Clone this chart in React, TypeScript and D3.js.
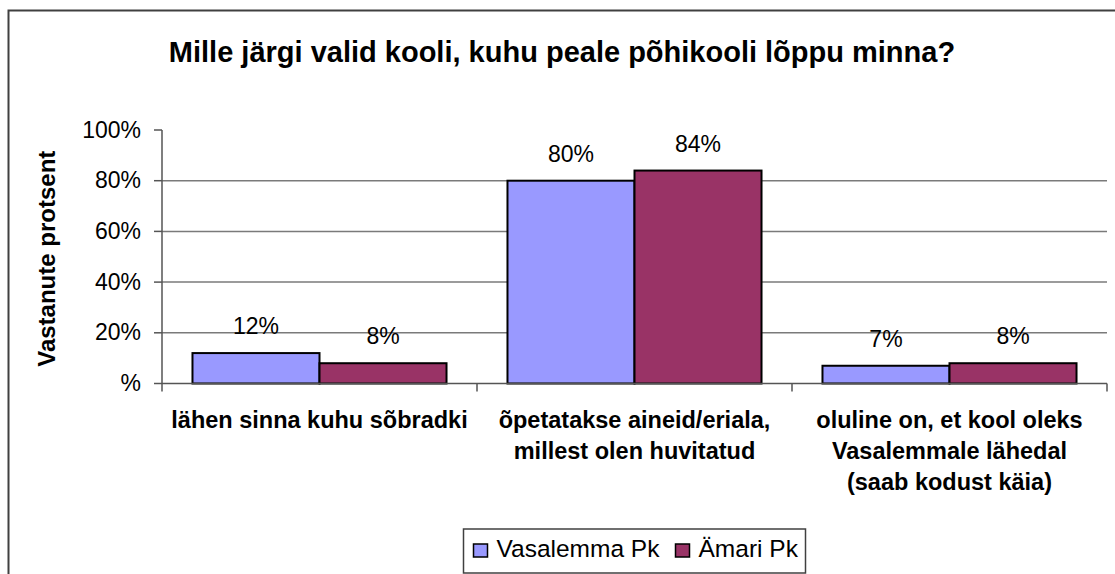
import React from "react";
import * as d3 from "d3";

const categories: string[][] = [
  ["lähen sinna kuhu sõbradki"],
  ["õpetatakse aineid/eriala,", "millest olen huvitatud"],
  ["oluline on, et kool oleks", "Vasalemmale lähedal", "(saab kodust käia)"],
];
const seriesNames = ["Vasalemma Pk", "Ämari Pk"];
const vasalemma = [0.12, 0.8, 0.07];
const amari = [0.08, 0.84, 0.08];
const labelsVasalemma = ["12%", "80%", "7%"];
const labelsAmari = ["8%", "84%", "8%"];
const yTicks = [0, 0.2, 0.4, 0.6, 0.8, 1.0];
const yTickLabels = ["%", "20%", "40%", "60%", "80%", "100%"];
const colors = ["#9999FF", "#993366"];
const title = "Mille järgi valid kooli, kuhu peale põhikooli lõppu minna?";
const yTitle = "Vastanute protsent";

const W = 1115;
const H = 574;
const FONT = "'Liberation Sans', Arial, Helvetica, sans-serif";

export default function App() {
  const left = 162;
  const right = 1107;
  const top = 130;
  const bottom = 383.5;

  const x0 = d3
    .scaleBand<number>()
    .domain(categories.map((_, i) => i))
    .range([left, right])
    .paddingInner(0)
    .paddingOuter(0);
  const bw = x0.bandwidth();
  const gap = 0.48;
  const barW = bw / (2 + gap);
  const y = d3.scaleLinear().domain([0, 1]).range([bottom, top]);

  const series = [vasalemma, amari];
  const seriesLabels = [labelsVasalemma, labelsAmari];

  const catTicks = [...categories.map((_, i) => x0(i)!), right];

  const legendItemW = [202, 130];
  const legendW = 10 + legendItemW[0] + legendItemW[1];
  const legendX = (left + right) / 2 - legendW / 2;

  return (
    <svg
      width={W}
      height={H}
      style={{ position: "absolute", left: 0, top: 0, background: "#fff" }}
      fontFamily={FONT}
    >
      <rect x={0} y={0} width={W} height={H} fill="#fff" />
      {/* outer chart border (extends beyond view) */}
      <rect x={8.5} y={10.5} width={1108} height={700} fill="none" stroke="#404040" strokeWidth={2} />

      <text x={562} y={62} textAnchor="middle" fontSize={29} fontWeight="bold" fill="#000">
        {title}
      </text>

      {/* gridlines */}
      {yTicks
        .filter((t) => t > 0 && t < 1)
        .map((t) => (
          <line key={"g" + t} x1={left} x2={right} y1={y(t)} y2={y(t)} stroke="#7a7a7a" strokeWidth={1.5} />
        ))}

      {/* bars */}
      {categories.map((_, i) =>
        series.map((s, j) => {
          const bx = x0(i)! + (gap / 2) * barW + j * barW;
          return (
            <rect
              key={`b${i}-${j}`}
              x={bx}
              y={y(s[i])}
              width={barW}
              height={y(0) - y(s[i])}
              fill={colors[j]}
              stroke="#000"
              strokeWidth={2}
            />
          );
        })
      )}

      {/* data labels */}
      {categories.map((_, i) =>
        series.map((s, j) => {
          const cx = x0(i)! + (gap / 2) * barW + j * barW + barW / 2;
          return (
            <text key={`l${i}-${j}`} x={cx} y={y(s[i]) - 19} textAnchor="middle" fontSize={23} fill="#000">
              {seriesLabels[j][i]}
            </text>
          );
        })
      )}

      {/* y axis */}
      <line x1={left} x2={left} y1={top} y2={bottom} stroke="#555" strokeWidth={1.5} />
      {yTicks.map((t, i) => (
        <g key={"yt" + t}>
          <line x1={left - 8} x2={left} y1={y(t)} y2={y(t)} stroke="#555" strokeWidth={1.5} />
          <text x={141} y={y(t) + 7.5} textAnchor="end" fontSize={23} fill="#000">
            {yTickLabels[i]}
          </text>
        </g>
      ))}

      {/* x axis */}
      <line x1={left} x2={right} y1={bottom} y2={bottom} stroke="#555" strokeWidth={1.5} />
      {catTicks.map((cx, i) => (
        <line key={"xt" + i} x1={cx} x2={cx} y1={bottom} y2={bottom + 8} stroke="#555" strokeWidth={1.5} />
      ))}

      {/* category labels */}
      {categories.map((lines, i) => (
        <text key={"c" + i} textAnchor="middle" fontSize={23.5} fontWeight="bold" fill="#000">
          {lines.map((ln, k) => (
            <tspan key={k} x={x0(i)! + bw / 2} y={428 + k * 31}>
              {ln}
            </tspan>
          ))}
        </text>
      ))}

      {/* y title */}
      <text
        transform={`translate(55, ${(top + bottom) / 2 + 2}) rotate(-90)`}
        textAnchor="middle"
        fontSize={24}
        fontWeight="bold"
        fill="#000"
      >
        {yTitle}
      </text>

      {/* legend */}
      <g transform={`translate(${legendX}, 529)`}>
        <rect x={0} y={0} width={legendW} height={44} fill="#fff" stroke="#404040" strokeWidth={1.5} />
        {seriesNames.map((n, j) => {
          const ox = 10 + (j === 0 ? 0 : legendItemW[0]);
          return (
            <g key={"lg" + j} transform={`translate(${ox}, 0)`}>
              <rect x={0} y={15} width={14} height={13} fill={colors[j]} stroke="#000" strokeWidth={1.5} />
              <text x={23} y={27.7} fontSize={24.5} fill="#000">
                {n}
              </text>
            </g>
          );
        })}
      </g>
    </svg>
  );
}
